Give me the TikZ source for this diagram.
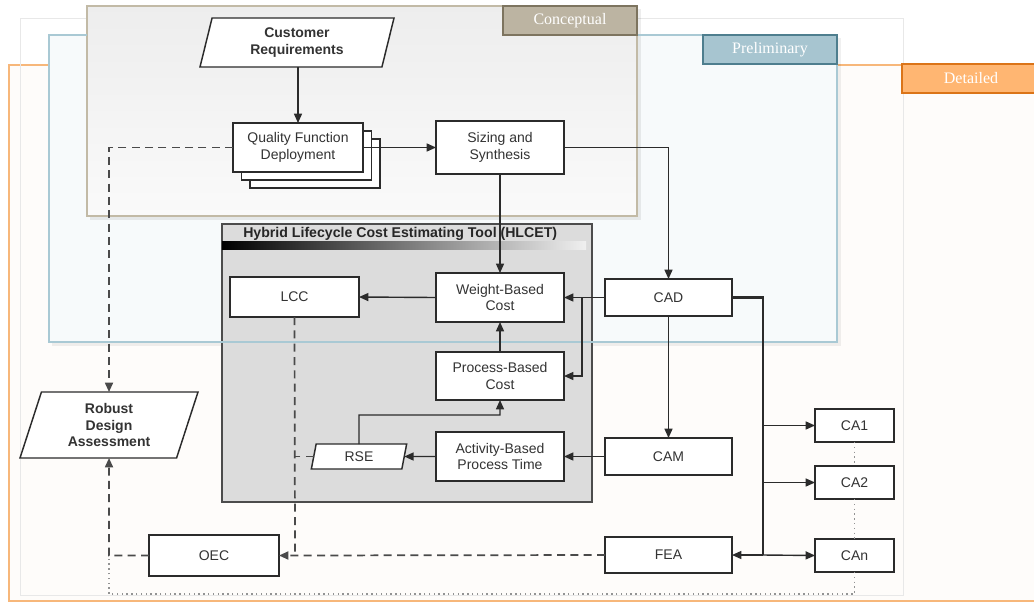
\documentclass[tikz,border=0pt]{standalone}
\usepackage{fontspec}
\setmainfont{Liberation Sans}
\newfontfamily\tabfont{Liberation Serif}
\usetikzlibrary{arrows.meta,calc,shapes.geometric}
\definecolor{orline}{HTML}{F7B77A}
\definecolor{orfill}{HTML}{FEFCFA}
\definecolor{ortabf}{HTML}{FFB672}
\definecolor{ortabd}{HTML}{DB7418}
\definecolor{blline}{HTML}{A9C9D4}
\definecolor{blfill}{HTML}{F7FAFB}
\definecolor{bltabf}{HTML}{A7C5D0}
\definecolor{bltabd}{HTML}{4E7E8E}
\definecolor{tnline}{HTML}{C2BAA6}
\definecolor{tntabf}{HTML}{BCB4A2}
\definecolor{tntabd}{HTML}{7D745F}
\definecolor{hlfill}{HTML}{DCDCDC}
\definecolor{boxtext}{HTML}{333333}
\definecolor{lineclr}{HTML}{2B2B2B}
\definecolor{dashclr}{HTML}{4A4A4A}
\tikzset{
  boxfont/.style={font=\fontsize{10.5}{12.7}\selectfont},
  box/.style={draw=lineclr, line width=1.1pt, fill=white, align=center, inner sep=0pt, outer sep=0pt, text=boxtext, boxfont},
  parabox/.style={box, shape=trapezium, trapezium stretches body, font=\bfseries\fontsize{10.5}{12.7}\selectfont},
  conn/.style={draw=lineclr, line width=1.05pt},
  arr/.style={conn, -{Triangle[length=7pt,width=6pt]}},
  dashconn/.style={draw=dashclr, line width=1.3pt, dash pattern=on 6pt off 4pt},
  dasharr/.style={dashconn, -{Triangle[length=7pt,width=6pt]}},
  dotconn/.style={draw=gray!85, line width=1pt, dash pattern=on 1pt off 2.6pt},
  tablabel/.style={text=white, font=\tabfont\fontsize{12}{14}\selectfont},
}
\begin{document}
\begin{tikzpicture}[x=0.75pt,y=-0.75pt]
\useasboundingbox (0,0) rectangle (1034,604);
\fill[white] (0,0) rectangle (1034,604);
% Detailed frame
\fill[orfill] (9,65) rectangle (1040,601);
\draw[orline, line width=2pt] (902,65) -- (9,65) -- (9,601) -- (1040,601);
% thin gray frame
\draw[gray!18, line width=0.7pt] (20,18) rectangle (903,595);
% Preliminary frame
\fill[black, opacity=0.06] (52,38) rectangle (841,346);
\fill[blfill] (49,35) rectangle (837,342);
% Conceptual frame
\fill[black, opacity=0.07] (90,9) rectangle (641,220);
\shade[top color=black!7, bottom color=black!2] (87,6) rectangle (637,216);
\draw[tnline, line width=2pt] (87,6) rectangle (637,216);
% HLCET container
\node[draw=black!70, fill=hlfill, line width=1.1pt, minimum width=277.5pt, minimum height=208.5pt, inner sep=0pt, outer sep=0pt] (hlcet) at (407,363) {};
\shade[left color=black, right color=black!6] (222,241) rectangle (586,249);
\node[anchor=base west, inner sep=0pt, text=black!85, font=\bfseries\fontsize{10.6}{12}\selectfont] (hltitle) at (243,237) {Hybrid Lifecycle Cost Estimating Tool (HLCET)};
% Preliminary outline on top
\draw[blline, line width=1.8pt] (87,35) -- (49,35) -- (49,342) -- (837,342) -- (837,35) -- (637,35);
% tabs
\node[draw=tntabd, fill=tntabf, line width=1.4pt, minimum width=100.5pt, minimum height=21.75pt, inner sep=0pt, tablabel] (tabc) at (570,20.5) {Conceptual};
\node[draw=bltabd, fill=bltabf, line width=1.4pt, minimum width=100.5pt, minimum height=21.75pt, inner sep=0pt, tablabel] (tabp) at (770,49.5) {Preliminary};
\node[draw=ortabd, fill=ortabf, line width=1.4pt, minimum width=103.5pt, minimum height=21.75pt, inner sep=0pt, tablabel] (tabd) at (971,78.5) {Detailed};

% nodes
\node[parabox, trapezium left angle=67.8, trapezium right angle=112.2, minimum width=145.5pt, minimum height=36.75pt] (cust) at (297,42.5) {Customer\\Requirements};
\node[box, minimum width=97.5pt, minimum height=36.75pt] (qfd) at (298,147.5) {};
\draw[box] ($(qfd.north west)+(17,16)$) rectangle ($(qfd.south east)+(17,16)$);
\draw[box] ($(qfd.north west)+(8.5,8)$) rectangle ($(qfd.south east)+(8.5,8)$);
\node[box, minimum width=97.5pt, minimum height=36.75pt] (qfdtop) at (298,147.5) {Quality Function\\Deployment};
\node[box, minimum width=96pt, minimum height=39.75pt] (siz) at (500,147.5) {Sizing and\\Synthesis};
\node[box, minimum width=96pt, minimum height=36.75pt] (wbc) at (500,297.5) {Weight-Based\\Cost};
\node[box, minimum width=96.75pt, minimum height=30pt] (lcc) at (294.5,297) {LCC};
\node[box, minimum width=96pt, minimum height=36pt] (pbc) at (500,376) {Process-Based\\Cost};
\node[box, minimum width=96pt, minimum height=36.75pt] (abt) at (500,456.5) {Activity-Based\\Process Time};
\node[parabox, font=\fontsize{10.5}{12.7}\selectfont, trapezium left angle=64, trapezium right angle=116, minimum width=71.5pt, minimum height=18.75pt] (rse) at (359,456.5) {RSE};
\node[box, minimum width=95.25pt, minimum height=27.75pt] (cad) at (668.5,297.5) {CAD};
\node[box, minimum width=95.25pt, minimum height=27.75pt] (cam) at (668.5,456.5) {CAM};
\node[box, minimum width=95.25pt, minimum height=27pt] (fea) at (668.5,555) {FEA};
\node[box, minimum width=59.25pt, minimum height=24.75pt] (ca1) at (854.5,425.5) {CA1};
\node[box, minimum width=59.25pt, minimum height=24.75pt] (ca2) at (854.5,482.5) {CA2};
\node[box, minimum width=59.25pt, minimum height=24.75pt] (can) at (854.5,555.5) {CAn};
\node[box, minimum width=97.5pt, minimum height=30.75pt] (oec) at (214,555.5) {OEC};
\node[parabox, trapezium left angle=64.1, trapezium right angle=115.9, minimum width=133.5pt, minimum height=49.5pt] (rda) at (109,425) {Robust\\Design\\Assessment};

% coordinates
\coordinate (cadsplit) at (582,297.5);
\coordinate (bustop) at (763,297.5);
\coordinate (busbot) at (763,555);
\coordinate (loopr) at (854.5,594);
\coordinate (loopl) at (109,594);
\coordinate (oecjoin) at (109,555.5);
\coordinate (rsebend) at (359,415);
\coordinate (lccjoin) at (295,555.5);

% solid connectors
\draw[arr] (qfdtop.north |- cust.south) -- (qfdtop.north);
\draw[arr] (qfdtop.east) -- (siz.west);
\draw[arr] (siz.east) -| (cad.north);
\draw[arr] (siz.south) -- (wbc.north);
\draw[arr] (wbc.west) -- (lcc.east);
\draw[arr] (pbc.north) -- (wbc.south);
\draw[arr] (cad.west) -- (wbc.east);
\draw[arr] (cadsplit) |- (pbc.east);
\draw[arr] (abt.west) -- (rse.east);
\draw[arr] (rse.north) -- (rsebend) -| (pbc.south);
\draw[arr] (cam.west) -- (abt.east);
\draw[arr] (cad.south) -- (cam.north);
\draw[conn, line width=1.6pt] (cad.east) -- (bustop) -- (busbot);
\draw[arr] (bustop |- ca1.west) -- (ca1.west);
\draw[arr] (bustop |- ca2.west) -- (ca2.west);
\draw[arr] (busbot) -- (can.west);
\draw[arr] (busbot) -- (fea.east);
% dotted
\draw[dotconn] (ca1.south) -- (ca2.north);
\draw[dotconn] (ca2.south) -- (can.north);
\draw[dotconn] (can.south) -- (loopr) -- (loopl) -- (oecjoin);
% dashed
\draw[dasharr] (qfdtop.west) -| (rda.north);
\draw[dasharr] (oec.west) -- (oecjoin) -- (rda.south);
\draw[dasharr] (fea.west) -- (oec.east);
\draw[dashconn] (lcc.south) -- (lccjoin);
\draw[dashconn] (rse.west) -- (lcc.south |- rse.west);
\end{tikzpicture}
\end{document}
